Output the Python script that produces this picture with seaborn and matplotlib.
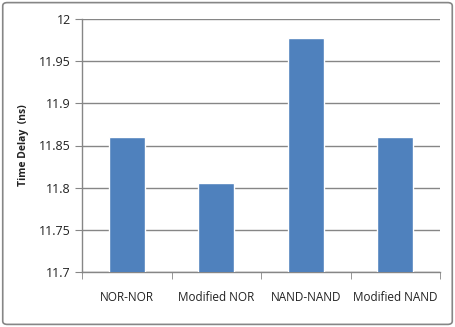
import matplotlib
matplotlib.use("Agg")
import matplotlib.pyplot as plt
from matplotlib.patches import FancyBboxPatch
from matplotlib.ticker import FixedLocator
import seaborn as sns
import pandas as pd

categories = ["NOR-NOR", "Modified NOR", "NAND-NAND", "Modified NAND"]
delays = [11.860, 11.806, 11.978, 11.860]
ytick_values = [11.7, 11.75, 11.8, 11.85, 11.9, 11.95, 12.0]
ytick_labels = ["11.7", "11.75", "11.8", "11.85", "11.9", "11.95", "12"]

df = pd.DataFrame({"design": categories, "delay": delays})

sns.set_style("white")
plt.rcParams["font.family"] = ["Open Sans", "DejaVu Sans"]

fig = plt.figure(figsize=(4.55, 3.27), dpi=100)
ax = fig.add_axes([82 / 455, 55 / 327, 358 / 455, 253 / 327])

sns.barplot(data=df, x="design", y="delay", color="#4F81BD", width=0.4,
            saturation=1, ax=ax, zorder=3)

ax.set_yticks(ytick_values, ytick_labels)
ax.set_ylim(11.7, 12.0)
ax.set_xlim(-0.5, 3.5)
ax.grid(axis="y", color="#868686", linewidth=1, zorder=0)
ax.set_axisbelow(True)

for s in ["top", "right"]:
    ax.spines[s].set_visible(False)
for s in ["left", "bottom"]:
    ax.spines[s].set_color("#868686")
    ax.spines[s].set_linewidth(1)

ax.tick_params(axis="y", which="major", left=True, length=5, color="#868686",
               labelsize=9, labelcolor="#222222", pad=3)
ax.tick_params(axis="x", which="major", length=0, labelsize=8.5,
               labelcolor="#222222", pad=14)
ax.xaxis.set_minor_locator(FixedLocator([-0.5, 0.5, 1.5, 2.5, 3.5]))
ax.tick_params(axis="x", which="minor", bottom=True, length=5, color="#868686")

ax.set_xlabel("")
ax.set_ylabel("Time Delay  (ns)", fontsize=7.5, fontweight="bold",
              color="#222222", labelpad=7)

border = FancyBboxPatch((0.006, 0.008), 0.988, 0.984,
                        boxstyle="round,pad=0,rounding_size=0.01",
                        transform=fig.transFigure, fill=False,
                        edgecolor="#868686", linewidth=1.2)
fig.patches.append(border)

fig.savefig("out.png", dpi=100)
